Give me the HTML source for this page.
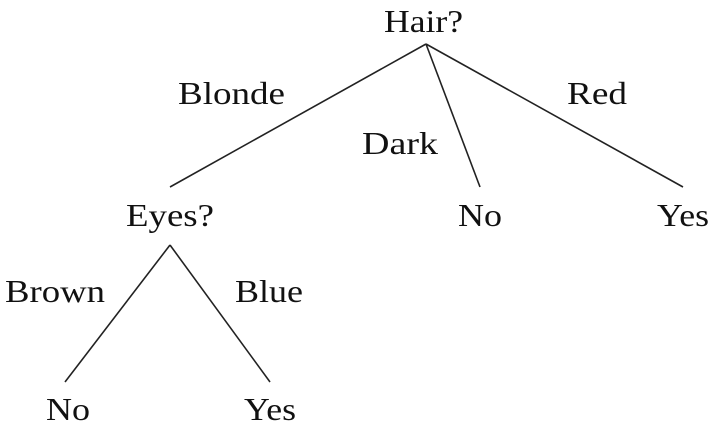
<!DOCTYPE html>
<html><head><style>html,body{margin:0;padding:0;background:#fff}svg{display:block}</style></head>
<body>
<svg width="712" height="425" xmlns="http://www.w3.org/2000/svg" font-family="'Liberation Serif', serif" font-size="32" fill="#111">
<g stroke="#222" stroke-width="1.6" fill="none">
<line x1="426" y1="44" x2="170" y2="187"/>
<line x1="426" y1="44" x2="480" y2="187"/>
<line x1="426" y1="44" x2="683" y2="187"/>
<line x1="170" y1="245" x2="65" y2="382"/>
<line x1="170" y1="245" x2="270" y2="382"/>
</g>
<text x="384" y="32" textLength="79" lengthAdjust="spacingAndGlyphs">Hair?</text>
<text x="178" y="104" textLength="107" lengthAdjust="spacingAndGlyphs">Blonde</text>
<text x="362" y="154" textLength="76" lengthAdjust="spacingAndGlyphs">Dark</text>
<text x="567" y="104" textLength="60" lengthAdjust="spacingAndGlyphs">Red</text>
<text x="126" y="226" textLength="88" lengthAdjust="spacingAndGlyphs">Eyes?</text>
<text x="458" y="226" textLength="44" lengthAdjust="spacingAndGlyphs">No</text>
<text x="657" y="226" textLength="52" lengthAdjust="spacingAndGlyphs">Yes</text>
<text x="5" y="302" textLength="100" lengthAdjust="spacingAndGlyphs">Brown</text>
<text x="235" y="302" textLength="68" lengthAdjust="spacingAndGlyphs">Blue</text>
<text x="46" y="420" textLength="44" lengthAdjust="spacingAndGlyphs">No</text>
<text x="244" y="420" textLength="52" lengthAdjust="spacingAndGlyphs">Yes</text>
</svg>
</body></html>
